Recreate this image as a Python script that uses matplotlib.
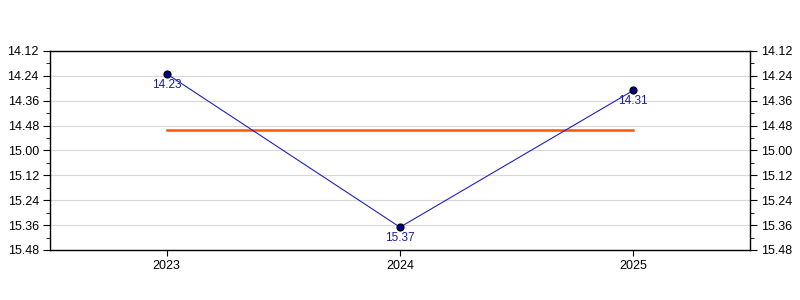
import numpy as np
import matplotlib
matplotlib.use('Agg')
import matplotlib.pyplot as plt
from matplotlib.ticker import FuncFormatter, MultipleLocator

plt.rcParams['font.family'] = ['Liberation Sans', 'DejaVu Sans']

# data: times as minutes.seconds
years = ['2023', '2024', '2025']
times = ['14.23', '15.37', '14.31']
y_min, y_max = '14.12', '15.48'


def to_sec(s):
    m, sec = s.split('.')
    return int(m) * 60 + int(sec)


def fmt_sec(v, pos=None):
    v = int(round(v))
    return f"{v // 60}.{v % 60:02d}"


secs = np.array([to_sec(t) for t in times])
avg = secs.mean()
x = np.arange(len(years))

fig = plt.figure(figsize=(8, 3), dpi=100)
ax = fig.add_axes([50 / 800, 50 / 300, 700 / 800, 199 / 300])

ax.plot(x, secs, color='#2222bb', lw=0.8, zorder=3)
ax.scatter(x, secs, s=26, color='#000080', edgecolor='black', lw=0.8, zorder=4)
ax.plot([x[0], x[-1]], [avg, avg], color='#ff5500', lw=1.8, zorder=2)

for xi, yi, t in zip(x, secs, times):
    ax.annotate(t, (xi, yi), xytext=(0, -3.5), textcoords='offset points',
                ha='center', va='top', fontsize=8.5, color='#1a1aa6')

ax.set_xlim(-0.5, len(years) - 0.5)
ax.set_ylim(to_sec(y_max), to_sec(y_min))
ax.set_xticks(x)
ax.set_xticklabels(years)
ax.yaxis.set_major_locator(MultipleLocator(12))
ax.yaxis.set_minor_locator(MultipleLocator(6))
ax.yaxis.set_major_formatter(FuncFormatter(fmt_sec))
ax.grid(axis='y', color='#d8d8d8', lw=0.8)
ax.set_axisbelow(True)

ax.tick_params(axis='y', which='both', left=True, right=True, labelleft=True, labelright=True,
               direction='out', labelsize=9, pad=3)
ax.tick_params(axis='y', which='major', length=5)
ax.tick_params(axis='y', which='minor', length=3)
ax.tick_params(axis='x', direction='out', length=4, labelsize=9)
for sp in ax.spines.values():
    sp.set_color('black')
    sp.set_linewidth(1)

fig.savefig('out.png', dpi=100)
